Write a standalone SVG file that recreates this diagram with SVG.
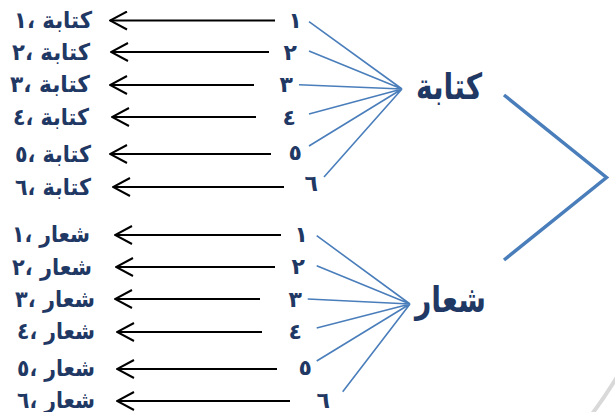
<svg xmlns="http://www.w3.org/2000/svg" width="615" height="412" viewBox="0 0 615 412">
<style>
.lbl{font-family:"DejaVu Sans",sans-serif;font-weight:bold;font-size:23px;fill:#1f3864;text-anchor:end}
.num{font-family:"DejaVu Sans",sans-serif;font-weight:bold;font-size:22px;fill:#1f3864;text-anchor:end}
.big{font-family:"DejaVu Sans",sans-serif;font-weight:bold;font-size:36px;fill:#1f3864;text-anchor:end}
.arr{stroke:#000;stroke-width:2;fill:none;marker-start:url(#ah)}
.fan{stroke:#4a7ebb;stroke-width:1.6;fill:none}
.br{stroke:#4a7ebb;stroke-width:3.5;fill:none}
</style>
<defs>
<marker id="ah" viewBox="0 0 20 20" refX="1" refY="10" markerWidth="20" markerHeight="20" markerUnits="userSpaceOnUse" orient="auto">
<path d="M18 1 L1 10 L18 19" fill="none" stroke="#000" stroke-width="2"/>
</marker>
</defs>
<rect width="615" height="412" fill="#fff"/>
<path d="M592 414 Q604 398 617 377" stroke="#d9d9d9" stroke-width="4" fill="none"/>
<g id="kitaba-labels">
<text class="lbl" x="92" y="28" textLength="78" lengthAdjust="spacingAndGlyphs">كتابة ،١</text>
<text class="lbl" x="90" y="60" textLength="78" lengthAdjust="spacingAndGlyphs">كتابة ،٢</text>
<text class="lbl" x="90" y="92" textLength="80" lengthAdjust="spacingAndGlyphs">كتابة ،٣</text>
<text class="lbl" x="89" y="125" textLength="76" lengthAdjust="spacingAndGlyphs">كتابة ،٤</text>
<text class="lbl" x="91" y="162" textLength="76" lengthAdjust="spacingAndGlyphs">كتابة ،٥</text>
<text class="lbl" x="91" y="195" textLength="76" lengthAdjust="spacingAndGlyphs">كتابة ،٦</text>
</g>
<g id="shiar-labels">
<text class="lbl" x="90" y="242" textLength="78" lengthAdjust="spacingAndGlyphs">شعار ،١</text>
<text class="lbl" x="92" y="275" textLength="80" lengthAdjust="spacingAndGlyphs">شعار ،٢</text>
<text class="lbl" x="95" y="307" textLength="80" lengthAdjust="spacingAndGlyphs">شعار ،٣</text>
<text class="lbl" x="95" y="339" textLength="78" lengthAdjust="spacingAndGlyphs">شعار ،٤</text>
<text class="lbl" x="95" y="376" textLength="78" lengthAdjust="spacingAndGlyphs">شعار ،٥</text>
<text class="lbl" x="95" y="408" textLength="78" lengthAdjust="spacingAndGlyphs">شعار ،٦</text>
</g>
<g id="kitaba-nums">
<text class="num" x="302" y="28">١</text>
<text class="num" x="297" y="60">٢</text>
<text class="num" x="293" y="92">٣</text>
<text class="num" x="296" y="125">٤</text>
<text class="num" x="302" y="160">٥</text>
<text class="num" x="318" y="191">٦</text>
</g>
<g id="shiar-nums">
<text class="num" x="308" y="242">١</text>
<text class="num" x="305" y="274">٢</text>
<text class="num" x="302" y="307">٣</text>
<text class="num" x="302" y="339">٤</text>
<text class="num" x="312" y="375">٥</text>
<text class="num" x="330" y="408">٦</text>
</g>
<g id="kitaba"><text class="big" x="482" y="99" textLength="66" lengthAdjust="spacingAndGlyphs">كتابة</text></g>
<g id="shiar"><text class="big" x="486" y="312" textLength="71" lengthAdjust="spacingAndGlyphs">شعار</text></g>
<g id="connectors">
<path class="arr" d="M110 20.5 H275"/>
<path class="arr" d="M111 52 H269"/>
<path class="arr" d="M110 85 H254"/>
<path class="arr" d="M112 117 H256"/>
<path class="arr" d="M110 154 H271"/>
<path class="arr" d="M113 187 H284"/>
<path class="arr" d="M115 235 H281"/>
<path class="arr" d="M116 267 H275"/>
<path class="arr" d="M115 299 H260"/>
<path class="arr" d="M117 332 H262"/>
<path class="arr" d="M117 369 H277"/>
<path class="arr" d="M117 401 H290"/>
<path class="fan" d="M309 21.7 L402 89 M309 51 L402 89 M299 84.7 L402 89 M309 114 L402 89 M309 146 L402 89 M324 177 L402 89"/>
<path class="fan" d="M316.7 235.7 L410 304 M316.7 265.7 L410 304 M307.7 299 L410 304 M316.7 328 L410 304 M316.7 361 L410 304 M342.7 391.7 L410 304"/>
<path class="br" d="M504 95 L606.5 177.5 L504 260"/>
</g>
</svg>
